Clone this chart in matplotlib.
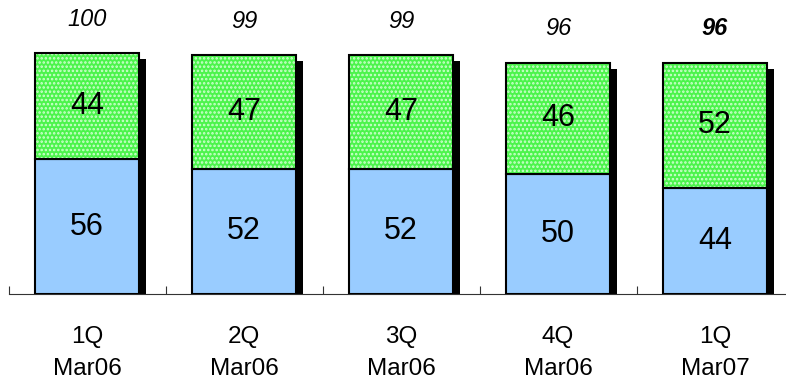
import matplotlib.pyplot as plt

plt.rcParams['font.family'] = ['Liberation Sans', 'DejaVu Sans']
plt.rcParams['hatch.linewidth'] = 1.2

quarters = ['1Q\nMar06', '2Q\nMar06', '3Q\nMar06', '4Q\nMar06', '1Q\nMar07']
bottom_vals = [56, 52, 52, 50, 44]
top_vals = [44, 47, 47, 46, 52]
totals = [100, 99, 99, 96, 96]

fig = plt.figure(figsize=(7.86, 3.86), dpi=100)
ax = fig.add_axes([0, 92 / 386, 1, 294 / 386])

x = list(range(len(quarters)))
w = 0.66
shadow_dx = 0.045

# shadows
ax.bar([i + shadow_dx for i in x], [t - 2.5 for t in totals], width=w,
       color='black', zorder=1)
# blue part
ax.bar(x, bottom_vals, width=w, color='#99CCFF', edgecolor='black',
       linewidth=1.5, zorder=3)
# green part with dotted texture
ax.bar(x, top_vals, bottom=bottom_vals, width=w, color='#4CF44C',
       edgecolor='none', linewidth=0, zorder=3)
ax.bar(x, top_vals, bottom=bottom_vals, width=w, color='none',
       edgecolor='#D0FFD0', hatch='....', linewidth=0, zorder=4)
ax.bar(x, top_vals, bottom=bottom_vals, width=w, color='none',
       edgecolor='black', linewidth=1.5, zorder=5)

for i in x:
    ax.text(i, bottom_vals[i] / 2, str(bottom_vals[i]), ha='center',
            va='center', fontsize=22, zorder=6)
    ax.text(i, bottom_vals[i] + top_vals[i] / 2, str(top_vals[i]),
            ha='center', va='center', fontsize=22, zorder=6)
    bold = i == len(x) - 1
    ax.text(i, totals[i] + 14, str(totals[i]), ha='center', va='center',
            fontsize=17, style='italic',
            fontweight='bold' if bold else 'normal')

ax.set_xlim(-87 / 157, (786 - 87) / 157)
ax.set_ylim(0, 294 / 2.41)

for s in ['top', 'right', 'left']:
    ax.spines[s].set_visible(False)
ax.spines['bottom'].set_bounds(-0.5, 5)
ax.spines['bottom'].set_color('#333333')
ax.set_yticks([])
ax.set_xticks([i - 0.5 for i in x])
ax.set_xticklabels([])
ax.tick_params(axis='x', direction='in', length=6, color='#333333')

for i in x:
    ax.text(i, -24.5, quarters[i], ha='center', va='center', fontsize=17.5,
            linespacing=1.62, clip_on=False)

fig.savefig('out.png', dpi=100)
